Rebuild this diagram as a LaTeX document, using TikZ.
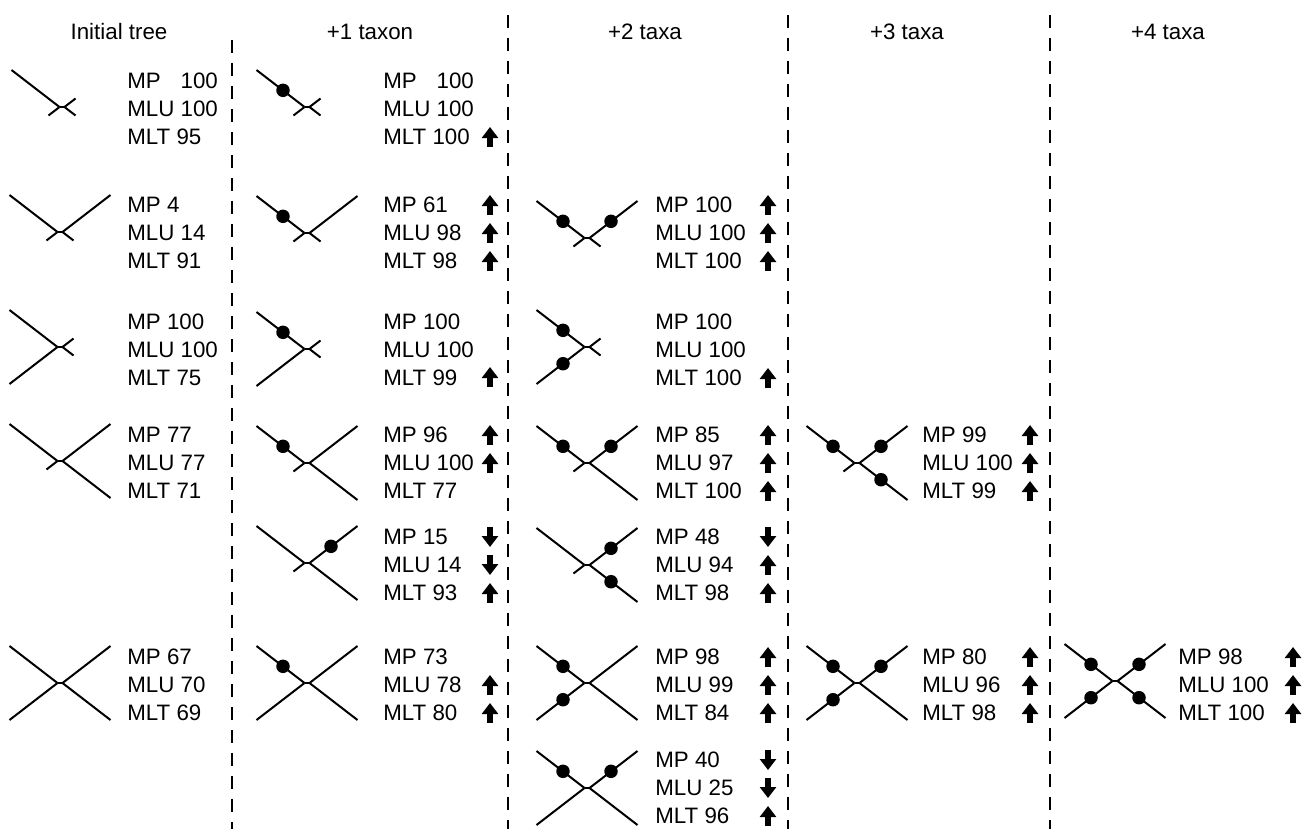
\documentclass[tikz,border=0pt]{standalone}
\usepackage{fontspec}
\setmainfont{Liberation Sans}
\usepackage{tikz}
\usetikzlibrary{arrows.meta,calc}

% quartet: centre name, position, lengths of the UL, UR, DL, DR branches
\newcommand{\quartet}[6]{%
  \coordinate (#1) at (#2);
  \draw[branch] (#1) ++(-2.5,0) coordinate (#1-l) -- ++(5,0) coordinate (#1-r);
  \draw[branch] (#1-l) -- +(-48*#3,-37*#3);
  \draw[branch] (#1-r) -- +(48*#4,-37*#4);
  \draw[branch] (#1-l) -- +(-48*#5,37*#5);
  \draw[branch] (#1-r) -- +(48*#6,37*#6);
}
% added taxa on the branches: list of sx/sy
\newcommand{\newtaxa}[2]{%
  \foreach \sx/\sy in {#2} \node[tip] at ($(#1)+(24*\sx,16.7*\sy)$) {};
}

\begin{document}
\begin{tikzpicture}[x=0.02cm, y=-0.02cm, font=\fontsize{12.7}{15.9}\selectfont,
  branch/.style={line width=0.04cm},
  tip/.style={circle, fill=black, inner sep=0pt, minimum size=0.27cm},
  stat/.style={anchor=west, align=left, inner sep=0pt},
  head/.style={inner sep=0pt},
  sep/.style={line width=0.03cm, dash pattern=on 0.26cm off 0.2cm},
  rise/.style={line width=0.11cm, -{Triangle[length=0.22cm,width=0.32cm]}},
  fall/.style={line width=0.11cm, -{Triangle[length=0.22cm,width=0.32cm]}}]
\useasboundingbox (0,0) rectangle (1307,829);

% column heads and separators
\node[head] (h0) at (119,32) {Initial tree};
\node[head] (h1) at (370,32) {+1 taxon};
\node[head] (h2) at (645,32) {+2 taxa};
\node[head] (h3) at (907,32) {+3 taxa};
\node[head] (h4) at (1168,32) {+4 taxa};
\foreach \x/\y in {232/40,508/15,788/15,1050/15}
  \draw[sep] (\x,\y) -- (\x,829);

% initial tree
\quartet{a1}{62,107}{1}{.23}{.23}{.23}
\quartet{a2}{60,232}{1}{1}{.23}{.23}
\quartet{a3}{60,347}{1}{.23}{1}{.23}
\quartet{a4}{60,461}{1}{1}{.23}{1}
\quartet{a6}{60,683}{1}{1}{1}{1}
\node[stat] (sa1) at (127,109) {MP\hspace{0.61em} 100\\MLU 100\\MLT 95};
\node[stat] (sa2) at (127,233) {MP 4\\MLU 14\\MLT 91};
\node[stat] (sa3) at (127,350) {MP 100\\MLU 100\\MLT 75};
\node[stat] (sa4) at (127,463) {MP 77\\MLU 77\\MLT 71};
\node[stat] (sa6) at (127,685) {MP 67\\MLU 70\\MLT 69};

% +1 taxon
\quartet{b1}{307,107}{1}{.23}{.23}{.23}
\quartet{b2}{307,233}{1}{1}{.23}{.23}
\quartet{b3}{307,349}{1}{.23}{1}{.23}
\quartet{b4}{307,463}{1}{1}{.23}{1}
\quartet{b5}{307,563}{1}{1}{.23}{1}
\quartet{b6}{307,683}{1}{1}{1}{1}
\newtaxa{b1}{-1/-1}
\newtaxa{b2}{-1/-1}
\newtaxa{b3}{-1/-1}
\newtaxa{b4}{-1/-1}
\newtaxa{b5}{1/-1}
\newtaxa{b6}{-1/-1}
\node[stat] (sb1) at (383,109) {MP\hspace{0.61em} 100\\MLU 100\\MLT 100};
\node[stat] (sb2) at (383,233) {MP 61\\MLU 98\\MLT 98};
\node[stat] (sb3) at (383,350) {MP 100\\MLU 100\\MLT 99};
\node[stat] (sb4) at (383,463) {MP 96\\MLU 100\\MLT 77};
\node[stat] (sb5) at (383,565) {MP 15\\MLU 14\\MLT 93};
\node[stat] (sb6) at (383,685) {MP 73\\MLU 78\\MLT 80};

% +2 taxa
\quartet{c2}{587,238}{1}{1}{.23}{.23}
\quartet{c3}{587,347}{1}{.23}{1}{.23}
\quartet{c4}{587,463}{1}{1}{.23}{1}
\quartet{c5}{587,565}{1}{1}{.23}{1}
\quartet{c6}{587,683}{1}{1}{1}{1}
\quartet{c7}{587,788}{1}{1}{1}{1}
\newtaxa{c2}{-1/-1,1/-1}
\newtaxa{c3}{-1/-1,-1/1}
\newtaxa{c4}{-1/-1,1/-1}
\newtaxa{c5}{1/-1,1/1}
\newtaxa{c6}{-1/-1,-1/1}
\newtaxa{c7}{-1/-1,1/-1}
\node[stat] (sc2) at (655,233) {MP 100\\MLU 100\\MLT 100};
\node[stat] (sc3) at (655,350) {MP 100\\MLU 100\\MLT 100};
\node[stat] (sc4) at (655,463) {MP 85\\MLU 97\\MLT 100};
\node[stat] (sc5) at (655,565) {MP 48\\MLU 94\\MLT 98};
\node[stat] (sc6) at (655,685) {MP 98\\MLU 99\\MLT 84};
\node[stat] (sc7) at (655,788) {MP 40\\MLU 25\\MLT 96};

% +3 taxa
\quartet{d4}{857,463}{1}{1}{.23}{1}
\quartet{d6}{857,683}{1}{1}{1}{1}
\newtaxa{d4}{-1/-1,1/-1,1/1}
\newtaxa{d6}{-1/-1,1/-1,-1/1}
\node[stat] (sd4) at (922,463) {MP 99\\MLU 100\\MLT 99};
\node[stat] (sd6) at (922,685) {MP 80\\MLU 96\\MLT 98};

% +4 taxa
\quartet{e6}{1115,681}{1}{1}{1}{1}
\newtaxa{e6}{-1/-1,1/-1,-1/1,1/1}
\node[stat] (se6) at (1178,685) {MP 98\\MLU 100\\MLT 100};

% support went up / down
\foreach \x/\y in {490/137, 490/205, 490/233, 490/261, 490/377, 490/435, 490/463,
    490/593, 490/685, 490/713,
    768/205, 768/233, 768/261, 768/378, 768/435, 768/463, 768/491, 768/565, 768/593,
    768/657, 768/685, 768/713, 768/816,
    1030/435, 1030/463, 1030/491, 1030/657, 1030/685, 1030/713,
    1293/657, 1293/685, 1293/713}
  \draw[rise] (\x,\y+10) -- (\x,\y-10);
\foreach \x/\y in {490/537, 490/565, 768/537, 768/760, 768/788}
  \draw[fall] (\x,\y-10) -- (\x,\y+10);
\end{tikzpicture}
\end{document}
